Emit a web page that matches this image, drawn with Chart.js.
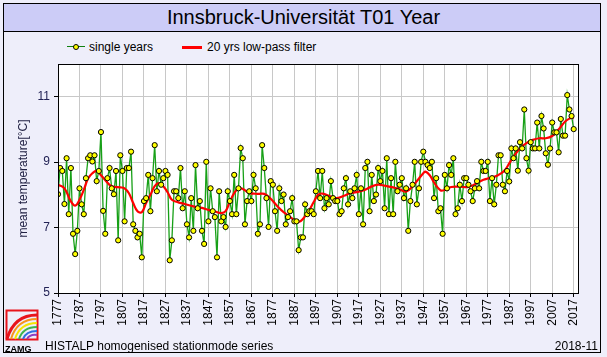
<!DOCTYPE html>
<html><head><meta charset="utf-8">
<script src="https://cdn.jsdelivr.net/npm/chart.js@4/dist/chart.umd.min.js"></script>
<style>
html,body{margin:0;padding:0;background:#fff;}
#wrap{position:relative;width:607px;height:357px;background:#EEEEFA;overflow:hidden;font-family:"Liberation Sans",Arial,sans-serif;}
#frame{position:absolute;left:3px;top:3px;width:596px;height:348px;border:1px solid #000;}
#titlebar{position:absolute;left:4px;top:4px;width:596px;height:27px;background:#CCCCF7;border-bottom:1px solid #000;}
#title{position:absolute;left:0;top:6px;width:607px;text-align:center;font-size:20px;color:#000;line-height:22px;}
canvas{position:absolute;left:0;top:0;}
.txt{position:absolute;font-size:12px;color:#000;white-space:nowrap;line-height:14px;}
#legline1{position:absolute;left:67px;top:46px;width:18px;height:1px;background:#108010;}
#legdot{position:absolute;left:73px;top:44px;width:4px;height:4px;border-radius:50%;background:#ffff00;border:1px solid #000;}
#legline2{position:absolute;left:182px;top:46px;width:20px;height:3px;background:#ff0000;}
#logo{position:absolute;left:4px;top:309px;}
</style></head>
<body>
<div id="wrap">
  <div id="titlebar"></div>
  <div id="frame"></div>
  <div id="title">Innsbruck-Universität T01 Year</div>
  <div id="legline1"></div><div id="legdot"></div>
  <div class="txt" style="left:89px;top:40px;">single years</div>
  <div id="legline2"></div>
  <div class="txt" style="left:207px;top:40px;">20 yrs low-pass filter</div>
  <canvas id="c" width="607" height="357"></canvas>
  <svg id="logo" width="40" height="46" viewBox="0 0 40 46">
    <rect x="2.5" y="1.5" width="31" height="29" fill="none" stroke="#e8141c" stroke-width="2"/>
    <path d="M3 30 Q10 6 33 6" fill="none" stroke="#e8141c" stroke-width="3"/>
    <path d="M7 30 Q13 10 33 10" fill="none" stroke="#f7941d" stroke-width="2"/>
    <path d="M11 30 Q16 14 33 14" fill="none" stroke="#f5e400" stroke-width="2"/>
    <path d="M15 30 Q19 18 33 18" fill="none" stroke="#3cb44b" stroke-width="2"/>
    <path d="M19 30 Q22 22 33 22" fill="none" stroke="#2f6fdf" stroke-width="2"/>
    <path d="M23 30 Q26 25 33 26" fill="none" stroke="#8e3fbf" stroke-width="2"/>
    <text x="1" y="43" font-family="Liberation Sans, Arial" font-weight="bold" font-size="9" fill="#000">ZAMG</text>
  </svg>
  <div class="txt" style="left:45px;top:339px;">HISTALP homogenised stationmode series</div>
  <div class="txt" style="right:9px;top:339px;">2018-11</div>
</div>
<script>
const startYear = 1777;
const yearlyTemps = [
 8.02,8.82,8.73,7.72,9.12,7.41,8.82,6.81,6.19,6.90,
 8.20,7.71,7.41,8.51,9.12,9.21,9.02,9.21,8.42,8.73,
 9.92,7.51,6.81,8.51,8.82,8.20,8.02,8.73,6.61,9.21,
 8.73,7.19,8.82,8.82,9.32,7.10,6.90,6.70,6.81,6.09,
 7.81,7.90,8.61,7.50,8.51,9.52,8.11,8.73,8.31,8.51,
 8.73,8.61,6.00,6.61,8.11,8.11,7.90,8.82,7.59,8.11,
 7.10,6.70,7.90,6.90,8.91,7.59,7.81,6.90,6.50,9.01,
 7.19,8.20,7.50,7.32,6.09,8.11,7.19,7.32,7.02,8.11,
 7.81,7.41,8.61,7.41,8.20,9.43,9.12,7.10,7.81,8.11,
 7.81,8.61,8.20,6.81,7.10,9.52,8.82,7.90,7.02,8.42,
 8.31,7.50,6.90,8.20,7.81,8.01,7.10,7.32,7.50,7.90,
 7.19,7.19,6.31,6.70,6.70,7.71,7.41,7.50,7.50,7.41,
 8.11,8.73,7.90,8.73,7.59,7.90,7.71,8.42,7.90,7.81,
 7.81,7.41,7.50,8.20,8.51,7.71,8.11,7.90,8.20,8.61,
 7.41,8.20,7.10,8.82,9.01,7.50,8.61,7.81,8.01,8.82,
 8.42,8.73,7.59,9.12,7.41,8.51,7.41,9.01,8.11,8.31,
 8.51,7.90,8.20,6.90,7.81,8.31,9.01,7.71,8.20,9.01,
 9.32,9.01,8.91,8.82,9.01,7.90,8.51,7.50,7.59,6.81,
 8.61,8.20,8.91,8.61,9.12,7.41,7.59,8.31,7.81,8.51,
 8.51,8.31,8.11,7.81,8.20,8.42,8.20,9.01,8.73,8.73,
 9.01,7.81,8.51,7.71,8.31,9.21,9.21,8.31,8.11,8.73,
 8.41,9.42,9.12,9.42,8.74,9.61,9.42,10.61,9.12,8.74,
 9.61,9.42,9.42,10.21,9.42,10.41,10.03,9.27,8.92,9.42,
 10.21,9.91,9.91,9.30,10.32,9.81,9.81,11.05,10.61,10.41,
 10.01
];
const filterYears = [1777,1780,1783,1785,1787,1789,1791,1793,1795,1797,1799,1802,1806,1808,1810,1812,1814,1816,1818,1820,1822,1824,1826,1828,1830,1833,1836,1840,1844,1847,1850,1853,1855,1857,1859,1861,1863,1866,1870,1873,1876,1879,1882,1885,1888,1890,1892,1894,1896,1898,1900,1904,1907,1910,1913,1917,1920,1923,1926,1929,1933,1936,1939,1942,1945,1947,1948,1950,1952,1955,1957,1960,1964,1968,1972,1975,1977,1980,1983,1985,1987,1989,1992,1995,1998,2001,2004,2007,2009,2011,2013,2015,2017];
const filterValues = [8.31,8.2,7.8,7.67,7.85,8.15,8.5,8.66,8.73,8.6,8.45,8.26,8.23,8.2,8.05,7.75,7.5,7.47,7.75,8.0,8.27,8.36,8.26,8.08,7.85,7.77,7.72,7.65,7.6,7.54,7.49,7.44,7.5,7.8,8.05,8.2,8.18,8.06,8.03,8.03,7.88,7.66,7.47,7.33,7.18,7.2,7.35,7.54,7.78,8.0,8.04,7.95,7.9,7.97,8.05,8.1,8.16,8.26,8.31,8.28,8.23,8.17,8.1,8.26,8.5,8.66,8.71,8.6,8.38,8.14,8.15,8.24,8.25,8.24,8.36,8.46,8.5,8.55,8.65,8.76,8.96,9.17,9.42,9.58,9.68,9.73,9.73,9.8,9.93,10.08,10.24,10.33,10.37];
const xTickYears = [1777,1787,1797,1807,1817,1827,1837,1847,1857,1867,1877,1887,1897,1907,1917,1927,1937,1947,1957,1967,1977,1987,1997,2007,2017];
const yTickValues = [5,7,9,11];

const yearlyPoints = yearlyTemps.map((v,i)=>({x:startYear+i,y:v}));
const filterPoints = filterYears.map((yr,i)=>({x:yr,y:filterValues[i]}));

const plotBg = {
  id:'plotBg',
  beforeDraw(chart){
    const {ctx,chartArea:a}=chart;
    ctx.save();ctx.fillStyle='#fff';ctx.fillRect(a.left,a.top,a.right-a.left,a.bottom-a.top);ctx.restore();
  },
  afterDraw(chart){
    const {ctx,chartArea:a}=chart;
    ctx.save();ctx.strokeStyle='#000';ctx.lineWidth=1;
    ctx.strokeRect(Math.round(a.left)+0.5,Math.round(a.top)+0.5,Math.round(a.right-a.left),Math.round(a.bottom-a.top));
    ctx.restore();
  }
};
const font = {family:'"Liberation Sans", Arial, sans-serif', size:12};
new Chart(document.getElementById('c'),{
  type:'line',
  data:{datasets:[
    {label:'single years pts',data:yearlyPoints,showLine:false,pointRadius:2.6,pointHoverRadius:2.6,pointBackgroundColor:'#ffff00',pointBorderColor:'#000',pointBorderWidth:1,order:0},
    {label:'20 yrs low-pass filter',data:filterPoints,borderColor:'#ff0000',borderWidth:2.2,pointRadius:0,tension:0.4,order:1},
    {label:'single years',data:yearlyPoints,borderColor:'#17a017',borderWidth:1.3,pointRadius:0,tension:0,order:2}
  ]},
  options:{
    responsive:false,animation:false,devicePixelRatio:1,
    layout:{padding:{left:0,right:29,top:64,bottom:0}},
    plugins:{legend:{display:false},tooltip:{enabled:false}},
    scales:{
      x:{type:'linear',min:1777,max:2019,
        afterBuildTicks:s=>{s.ticks=xTickYears.map(v=>({value:v}));},
        afterFit:s=>{s.height=64;},
        grid:{color:'#c8c8c8',tickColor:'#000',tickLength:4,drawTicks:true},
        border:{color:'#000',width:1},
        ticks:{autoSkip:false,minRotation:90,maxRotation:90,font:font,color:'#000',padding:2,callback:v=>String(v)}
      },
      y:{min:5,max:12,
        afterBuildTicks:s=>{s.ticks=yTickValues.map(v=>({value:v}));},
        afterFit:s=>{s.width=58;},
        grid:{color:'#c8c8c8',tickColor:'#000',tickLength:4,drawTicks:true},
        border:{color:'#000',width:1},
        ticks:{font:font,color:'#222255',padding:4,callback:v=>String(v)},
        title:{display:true,text:'mean temperature[°C]',font:font,color:'#222244',padding:{top:16,bottom:0}}
      }
    }
  },
  plugins:[plotBg]
});
</script>
</body></html>
